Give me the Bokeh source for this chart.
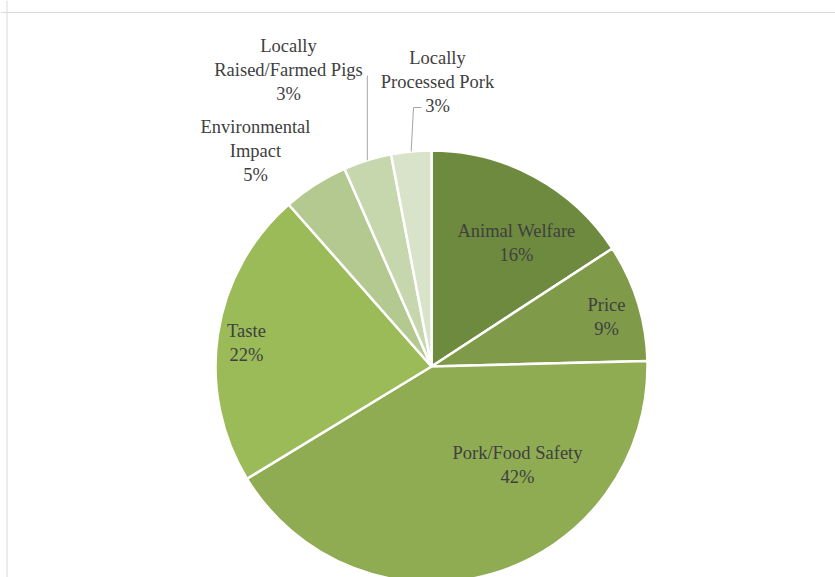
import math
from bokeh.plotting import figure
from bokeh.models import Range1d, Span, ColumnDataSource
from bokeh.core.properties import value
from bokeh.embed import file_html
from bokeh.resources import INLINE

categories = ["Animal Welfare", "Price", "Pork/Food Safety", "Taste",
              "Environmental Impact", "Locally Raised/Farmed Pigs", "Locally Processed Pork"]
# slice shares
shares = [15.8, 8.8, 41.7, 22.2, 4.9, 3.6, 3.0]
# percentages as printed on the data labels
pct_labels = [16, 9, 42, 22, 5, 3, 3]
label_names = ["Animal Welfare", "Price", "Pork/Food Safety", "Taste",
               "Environmental\nImpact", "Locally\nRaised/Farmed Pigs",
               "Locally\nProcessed Pork"]
colors = ["#6e8a3f", "#7f9b49", "#8fac53", "#9bbb59", "#b3c98f", "#c7d7ad", "#d9e3c9"]

# label anchor offsets from pie centre (pixels, y up)
label_dx = [85, 175, 86, -185, -176, -143, 6]
label_dy = [124, 50, -98, 24, 216, 297, 285]

R = 216
total = float(sum(shares))
starts, ends, mids = [], [], []
cum = 0.0
for s in shares:
    a0 = math.pi / 2 - 2 * math.pi * cum / total
    cum += s
    a1 = math.pi / 2 - 2 * math.pi * cum / total
    starts.append(a0)
    ends.append(a1)
    mids.append((a0 + a1) / 2)

W, H = 835, 577
p = figure(width=W, height=H, output_backend="svg", toolbar_location=None,
           x_range=Range1d(-431, 404), y_range=Range1d(-211, 366),
           x_axis_location=None, y_axis_location=None, min_border=0)
p.grid.visible = False
p.outline_line_color = None
p.background_fill_color = "white"
p.border_fill_color = "white"

src = ColumnDataSource(dict(cat=categories, share=shares, start=starts, end=ends, color=colors))
p.wedge(x=0, y=0, radius=R, start_angle="start", end_angle="end", direction="clock",
        fill_color="color", line_color="white", line_width=2.5, source=src)

# leader lines for the two small slices
for i, joint in ((5, None), (6, (-18, 259))):
    ex = R * math.cos(mids[i])
    ey = R * math.sin(mids[i])
    if joint is None:
        xs = [ex, ex]
        ys = [ey, 291]
    else:
        xs = [-10, joint[0], ex]
        ys = [joint[1], joint[1], ey]
    p.line(xs, ys, line_color="#a6a6a6", line_width=1)

label_text = [f"{n}\n{v}%" for n, v in zip(label_names, pct_labels)]
lsrc = ColumnDataSource(dict(x=label_dx, y=label_dy, t=label_text))
p.text(x="x", y="y", text="t", source=lsrc, text_align="center", text_baseline="middle",
       text_font=value("Liberation Serif"), text_font_size="18.5px", text_color="#404040",
       text_line_height=1.2)

# chart-area border (top and left)
p.add_layout(Span(location=354, dimension="width", line_color="#d9d9d9", line_width=1))
p.add_layout(Span(location=-424.5, dimension="height", line_color="#d9d9d9", line_width=1))

open("out.html", "w").write(file_html(p, INLINE))
